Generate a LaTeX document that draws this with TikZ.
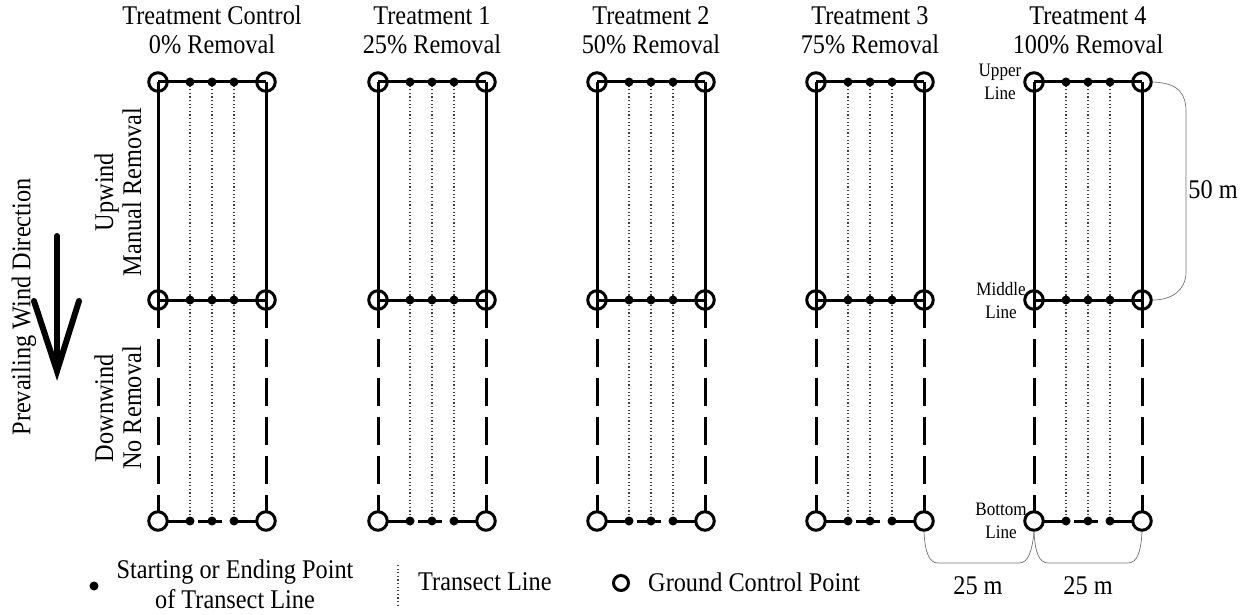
\documentclass[tikz,border=0pt]{standalone}
\usepackage{fontspec}
\setmainfont[FakeStretch=0.9]{Liberation Serif}
\begin{document}
\begin{tikzpicture}[x=1pt,y=-1pt,
  gcp/.style={circle, draw, line width=3pt, minimum size=18.5pt, inner sep=0pt},
  gcpw/.style={gcp, fill=white},
  tdot/.style={circle, fill, minimum size=9pt, inner sep=0pt},
  frame/.style={line width=3pt},
  lowframe/.style={line width=3pt, dash pattern=on 28pt off 11pt},
  transect/.style={line width=1.1pt, dash pattern=on 1.2pt off 2.4pt, black!75},
  bracket/.style={line width=0.7pt, black!55},
  big/.style={font=\fontsize{27}{29}\selectfont, align=center, inner sep=0pt},
  legend/.style={font=\fontsize{27}{30}\selectfont, align=center, inner sep=0pt},
  side/.style={font=\fontsize{27}{28}\selectfont, align=center, inner sep=0pt, rotate=90},
  small/.style={font=\fontsize{19}{23}\selectfont, align=center, inner sep=0pt},
  windarrow/.style={line width=6pt, line cap=round, line join=miter}
]
\useasboundingbox (0,0) rectangle (1250,615);

\foreach \i/\x/\t/\p in {0/158/Treatment Control/0,1/378/Treatment 1/25,2/597/Treatment 2/50,3/816/Treatment 3/75,4/1034/Treatment 4/100}{
  \pgfmathsetmacro{\xr}{\x+108}
  \pgfmathsetmacro{\xc}{\x+54}
  \coordinate (UL\i) at (\x,82);
  \coordinate (UR\i) at (\xr,82);
  \coordinate (ML\i) at (\x,300);
  \coordinate (MR\i) at (\xr,300);
  \coordinate (BL\i) at (\x,521);
  \coordinate (BR\i) at (\xr,521);
  \node[big] (title\i) at (\xc,30.3) {\t\\\p\% Removal};
  \foreach \k/\dx in {1/32,2/54,3/76}{
    \coordinate (TU\i\k) at (\x+\dx,82);
    \coordinate (TM\i\k) at (\x+\dx,300);
    \coordinate (TB\i\k) at (\x+\dx,521);
    \draw[transect] (TU\i\k) -- (TB\i\k);
  }
  \draw[frame] (UL\i) -- (UR\i);
  \draw[frame] (ML\i) -- (MR\i);
  \draw[frame] (UL\i) -- (ML\i);
  \draw[frame] (UR\i) -- (MR\i);
  \draw[lowframe] (ML\i) -- (BL\i);
  \draw[lowframe] (MR\i) -- (BR\i);
  \draw[frame] (BL\i) -- (TB\i1);
  \draw[frame] ([xshift=8pt]TB\i1) -- ([xshift=32pt]TB\i1);
  \draw[frame] (TB\i3) -- (BR\i);
  \foreach \k in {1,2,3}{
    \node[tdot] (dU\i\k) at (TU\i\k) {};
    \node[tdot] (dM\i\k) at (TM\i\k) {};
    \node[tdot] (dB\i\k) at (TB\i\k) {};
  }
  \node[gcp] (gUL\i) at (UL\i) {};
  \node[gcp] (gUR\i) at (UR\i) {};
  \node[gcp] (gML\i) at (ML\i) {};
  \node[gcp] (gMR\i) at (MR\i) {};
  \node[gcpw] (gBL\i) at (BL\i) {};
  \node[gcpw] (gBR\i) at (BR\i) {};
}

% line labels
\node[small] (upper) at (1000,82) {Upper\\Line};
\node[small] (middle) at (1001,300) {Middle\\Line};
\node[small] (bottom) at (1001,521) {Bottom\\Line};

% 50 m bracket
\draw[bracket] (gUR4.east) .. controls (1180,83) and (1186,95) .. (1186,112) -- (1186,272) .. controls (1186,290) and (1172,300) .. (gMR4.east);
\node[big] (fifty) at (1213,190) {50 m};

% 25 m brackets
\draw[bracket] (gBR3.south) .. controls (925,552) and (929,563) .. (938,563) -- (1019,563) .. controls (1028,563) and (1032,552) .. (gBL4.south);
\draw[bracket] (gBL4.south) .. controls (1035,552) and (1039,563) .. (1048,563) -- (1128,563) .. controls (1137,563) and (1141,552) .. (gBR4.south);
\node[big] (tw1) at (978,586) {25 m};
\node[big] (tw2) at (1088,586) {25 m};

% side labels
\node[side] (upwind) at (117.8,192) {Upwind\\Manual Removal};
\node[side] (downwind) at (117.8,408) {Downwind\\No Removal};
\node[side] (prev) at (23.8,307) {Prevailing Wind Direction};

% wind arrow
\coordinate (wtop) at (57,236);
\coordinate (wtip) at (57,371);
\coordinate (wl) at (34,301);
\coordinate (wr) at (79,301);
\draw[windarrow] (wtop) -- (wtip);
\draw[windarrow] (wl) -- (wtip) -- (wr);

% legend
\node[tdot] (legdot) at (94,586) {};
\node[legend] (legdottext) at (235,584) {Starting or Ending Point\\of Transect Line};
\coordinate (legtA) at (398,565);
\coordinate (legtB) at (398,606);
\draw[transect] (legtA) -- (legtB);
\node[legend, anchor=west] (legttext) at (418,582) {Transect Line};
\node[gcp, minimum size=15pt] (leggcp) at (621,583) {};
\node[legend, anchor=west] (leggtext) at (648,582) {Ground Control Point};
\end{tikzpicture}
\end{document}
